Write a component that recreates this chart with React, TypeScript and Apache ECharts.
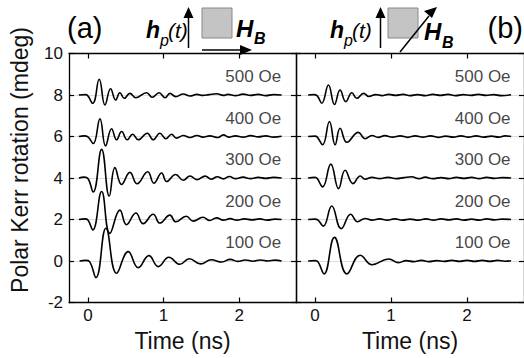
import React, { useEffect, useRef } from "react";
import * as echarts from "echarts";

// ---- data (time in ns, Kerr rotation in mdeg, traces offset by 2 mdeg) ----
const fieldLabels = ["100 Oe", "200 Oe", "300 Oe", "400 Oe", "500 Oe"];
const offsets = [0, 2, 4, 6, 8];
const xTicks = [0, 1, 2];
const yTicks = [-2, 0, 2, 4, 6, 8, 10];

const a100 = [[-0.11,0],[-0.03,0.03],[0.02,-0.02],[0.106,-0.8],[0.238,1.58],[0.379,-0.59],[0.533,0.45],[0.665,-0.32],[0.806,0.26],[0.93,-0.27],[1.07,0.18],[1.216,-0.16],[1.34,0.11],[1.49,-0.14],[1.63,0.06],[1.77,-0.05],[1.88,0.08],[1.98,-0.02],[2.08,0.05],[2.18,-0.01],[2.28,0.05],[2.38,0.0],[2.47,0.04],[2.56,0.0]];
const a200 = [[-0.12,2.0],[-0.04,2.03],[0.0,1.98],[0.065,1.5],[0.181,3.35],[0.29,1.33],[0.423,2.45],[0.51,1.75],[0.634,2.31],[0.73,1.8],[0.863,2.25],[0.95,1.83],[1.084,2.21],[1.16,1.89],[1.3,2.16],[1.39,1.92],[1.52,2.11],[1.61,1.95],[1.7,2.08],[1.79,1.97],[1.88,2.04],[1.97,1.97],[2.07,2.03],[2.17,1.98],[2.27,2.03],[2.37,1.97],[2.47,2.02],[2.56,2.0]];
const a300 = [[-0.12,4.0],[-0.05,4.04],[0.0,3.98],[0.07,3.33],[0.181,5.38],[0.282,3.13],[0.357,4.5],[0.445,3.69],[0.555,4.27],[0.65,3.72],[0.79,4.3],[0.872,3.75],[0.974,4.24],[1.04,3.83],[1.16,4.17],[1.26,3.89],[1.35,4.1],[1.44,3.92],[1.55,4.09],[1.63,3.94],[1.71,4.06],[1.79,3.96],[1.87,4.07],[1.95,3.97],[2.05,4.04],[2.15,3.97],[2.25,4.03],[2.35,3.98],[2.45,4.03],[2.56,4.0]];
const a400 = [[-0.12,6.0],[-0.05,6.03],[0.0,5.98],[0.07,5.66],[0.159,6.85],[0.233,5.55],[0.313,6.37],[0.379,5.84],[0.445,6.24],[0.52,5.84],[0.59,6.11],[0.665,5.84],[0.784,6.16],[0.863,5.84],[0.95,6.16],[1.03,5.89],[1.105,6.11],[1.17,5.92],[1.26,6.05],[1.35,5.95],[1.44,6.05],[1.52,5.97],[1.61,6.03],[1.72,5.95],[1.79,6.08],[1.86,5.97],[1.95,6.03],[2.05,5.97],[2.15,6.04],[2.25,5.98],[2.35,6.03],[2.45,5.97],[2.56,6.01]];
const a500 = [[-0.12,8.0],[-0.03,8.02],[0.062,7.6],[0.149,8.76],[0.225,7.52],[0.3,8.3],[0.366,7.76],[0.423,8.11],[0.48,7.84],[0.555,8.08],[0.634,7.87],[0.775,8.11],[0.85,7.89],[0.94,8.11],[1.02,7.87],[1.084,8.08],[1.16,7.92],[1.26,8.05],[1.35,7.95],[1.44,8.03],[1.52,7.98],[1.6,8.02],[1.7,8.06],[1.79,7.98],[1.85,8.03],[1.95,7.97],[2.05,8.04],[2.15,7.98],[2.25,8.03],[2.35,7.97],[2.45,8.02],[2.56,8.0]];

const b100 = [[-0.09,0],[0.0,0.02],[0.04,-0.04],[0.119,-0.62],[0.256,1.14],[0.42,-0.62],[0.595,0.28],[0.75,-0.18],[0.97,0.1],[1.1,-0.08],[1.2,0.02],[1.3,-0.03],[1.4,0.03],[1.5,-0.03],[1.6,0.02],[1.7,-0.02],[1.8,0.03],[1.9,-0.02],[2.0,0.03],[2.1,-0.02],[2.2,0.03],[2.3,-0.02],[2.4,0.03],[2.5,-0.01],[2.58,0.01]];
const b200 = [[-0.09,2.0],[0.0,2.02],[0.04,1.97],[0.11,1.68],[0.22,2.65],[0.345,1.56],[0.47,2.25],[0.56,1.89],[0.66,2.05],[0.75,1.97],[0.85,2.03],[0.95,1.97],[1.05,2.03],[1.15,1.97],[1.25,2.02],[1.36,1.97],[1.46,2.03],[1.56,1.97],[1.66,2.03],[1.76,1.98],[1.86,2.03],[1.96,1.97],[2.06,2.02],[2.16,1.97],[2.26,2.03],[2.36,1.98],[2.46,2.02],[2.58,2.0]];
const b300 = [[-0.09,4.0],[0.0,4.03],[0.03,3.97],[0.1,3.57],[0.208,4.67],[0.31,3.49],[0.396,4.37],[0.5,3.73],[0.595,4.1],[0.66,3.94],[0.75,4.03],[0.85,3.97],[0.96,4.03],[1.07,3.97],[1.17,4.02],[1.27,4.06],[1.37,3.97],[1.45,4.04],[1.55,3.97],[1.66,4.02],[1.76,3.97],[1.86,4.03],[1.96,3.98],[2.06,4.03],[2.16,3.97],[2.26,4.03],[2.36,3.98],[2.46,4.02],[2.58,4.0]];
const b400 = [[-0.09,6.0],[0.0,6.02],[0.03,5.97],[0.1,5.6],[0.19,6.72],[0.264,5.6],[0.33,6.4],[0.42,5.72],[0.57,6.2],[0.66,5.89],[0.75,6.05],[0.83,5.96],[0.92,6.04],[1.02,5.97],[1.12,6.03],[1.22,5.96],[1.32,6.03],[1.42,5.97],[1.52,6.03],[1.62,5.96],[1.72,6.02],[1.82,5.97],[1.92,6.03],[2.02,5.97],[2.12,6.03],[2.22,5.97],[2.32,6.02],[2.42,5.97],[2.5,6.03],[2.58,6.0]];
const b500 = [[-0.09,8.0],[-0.02,8.02],[0.03,7.96],[0.089,7.6],[0.177,8.48],[0.256,7.54],[0.33,8.24],[0.405,7.68],[0.485,8.11],[0.55,7.84],[0.64,8.08],[0.71,7.93],[0.8,8.02],[0.88,7.97],[0.97,8.03],[1.06,7.98],[1.16,8.03],[1.25,7.97],[1.35,8.02],[1.45,7.97],[1.55,8.03],[1.65,7.98],[1.75,8.03],[1.85,7.97],[1.95,8.02],[2.05,7.98],[2.15,8.03],[2.25,7.98],[2.35,8.02],[2.45,7.97],[2.58,8.01]];

const panelA = [a100, a200, a300, a400, a500];
const panelB = [b100, b200, b300, b400, b500];
const labelXA = 2.56;
const labelXB = 2.58;
const labelRise = 0.88;

const FONT = "Liberation Sans, Arial, Helvetica, sans-serif";

export default function App() {
  const ref = useRef<HTMLDivElement>(null);
  useEffect(() => {
    if (!ref.current) return;
    const chart = echarts.init(ref.current, undefined, { renderer: "svg" });

    const axisLine = { show: true, onZero: false, lineStyle: { color: "#000", width: 1.3 } };
    const xBase = (grid: number, pos: string, showLabel: boolean, name: string) => ({
      type: "value",
      gridIndex: grid,
      position: pos,
      min: -0.25,
      max: 2.75,
      axisLine,
      axisTick: { show: true, inside: true, length: 5, customValues: xTicks, lineStyle: { color: "#000", width: 1.2 } },
      axisLabel: { show: showLabel, customValues: xTicks, margin: 4, fontSize: 17, color: "#111", fontFamily: FONT },
      splitLine: { show: false },
      name,
      nameLocation: "middle",
      nameGap: 27,
      nameTextStyle: { fontSize: 23, color: "#111", fontFamily: FONT },
    });
    const yBase = (grid: number, pos: string, showLabel: boolean, split: boolean) => ({
      type: "value",
      gridIndex: grid,
      position: pos,
      min: -2,
      max: 10,
      interval: 2,
      axisLine,
      axisTick: { show: true, inside: true, length: 5, lineStyle: { color: "#000", width: 1.2 } },
      axisLabel: { show: showLabel, margin: 6, fontSize: 17, color: "#111", fontFamily: FONT,
        formatter: (v: number) => (yTicks.includes(v) ? String(v) : "") },
      splitLine: { show: split, lineStyle: { color: "#dcdcdc", width: 1 } },
    });

    const lineSeries = (data: number[][], xi: number, yi: number) => ({
      type: "line",
      xAxisIndex: xi,
      yAxisIndex: yi,
      data,
      showSymbol: false,
      smooth: 0.45,
      lineStyle: { color: "#000", width: 1.6 },
      z: 3,
    });
    const labelSeries = (lx: number, xi: number, yi: number) => ({
      type: "scatter",
      xAxisIndex: xi,
      yAxisIndex: yi,
      symbolSize: 1,
      itemStyle: { color: "rgba(0,0,0,0)" },
      data: fieldLabels.map((t, i) => [lx, offsets[i] + labelRise, t]),
      label: {
        show: true,
        position: "left",
        distance: 0,
        formatter: (p: any) => p.data[2],
        fontSize: 17,
        color: "#111",
        fontFamily: FONT,
      },
    });

    const txt = (x: number, y: number, text: string, size: number, weight: string, style: string, align = "left") => ({
      type: "text",
      x,
      y,
      style: { text, fontSize: size, fontWeight: weight, fontStyle: style, fontFamily: FONT, fill: "#000", align, verticalAlign: "middle" },
    });
    const ln = (x1: number, y1: number, x2: number, y2: number) => ({
      type: "line",
      shape: { x1, y1, x2, y2 },
      style: { stroke: "#000", lineWidth: 1.5 },
    });
    const tri = (pts: number[][]) => ({ type: "polygon", shape: { points: pts }, style: { fill: "#000" } });
    const sq = (x: number, y: number) => ({
      type: "rect",
      shape: { x, y, width: 30, height: 30 },
      style: { fill: "#c4c4c4", stroke: "#888", lineWidth: 1 },
    });

    const graphic = [
      { type: "text", x: 20, y: 160, rotation: Math.PI / 2,
        style: { text: "Polar Kerr rotation (mdeg)", fontSize: 23, fontFamily: FONT, fill: "#111", align: "center", verticalAlign: "middle" } },
      txt(67, 28, "(a)", 29, "normal", "normal"),
      txt(523, 28, "(b)", 29, "normal", "normal", "right"),
      txt(146, 30, "h", 23, "bold", "italic"),
      txt(160, 40, "p", 16, "normal", "italic"),
      txt(168, 30, "(t)", 21, "normal", "italic"),
      ln(188.5, 48, 188.5, 16),
      tri([[183.5, 18], [193.5, 18], [188.5, 7]]),
      sq(202, 8),
      ln(202, 50, 242, 50),
      tri([[240, 45], [240, 55], [252, 50]]),
      txt(236, 28, "H", 24, "bold", "italic"),
      txt(254, 38, "B", 16, "bold", "italic"),
      txt(330, 30, "h", 23, "bold", "italic"),
      txt(344, 40, "p", 16, "normal", "italic"),
      txt(352, 30, "(t)", 21, "normal", "italic"),
      ln(380.5, 48, 380.5, 16),
      tri([[375.5, 18], [385.5, 18], [380.5, 7]]),
      sq(388, 8),
      ln(400, 52, 429, 16),
      tri([[424, 11], [432, 18], [437, 7]]),
      txt(424, 31, "H", 24, "bold", "italic"),
      txt(442, 42, "B", 16, "bold", "italic"),
    ];

    chart.setOption({
      animation: false,
      backgroundColor: "#fff",
      textStyle: { fontFamily: FONT },
      grid: [
        { left: 69, top: 53.5, width: 227, height: 249 },
        { left: 296, top: 53.5, width: 229, height: 249 },
      ],
      xAxis: [
        xBase(0, "bottom", true, "Time (ns)"),
        xBase(0, "top", false, ""),
        xBase(1, "bottom", true, "Time (ns)"),
        xBase(1, "top", false, ""),
      ],
      yAxis: [
        yBase(0, "left", true, true),
        yBase(0, "right", false, false),
        yBase(1, "left", false, true),
        yBase(1, "right", false, false),
      ],
      series: [
        ...panelA.map((d) => lineSeries(d, 0, 0)),
        ...panelB.map((d) => lineSeries(d, 2, 2)),
        labelSeries(labelXA, 0, 0),
        labelSeries(labelXB, 2, 2),
      ],
      graphic,
    });
    return () => chart.dispose();
  }, []);
  return <div ref={ref} style={{ width: 524, height: 358, position: "fixed", left: 0, top: 0 }} />;
}
